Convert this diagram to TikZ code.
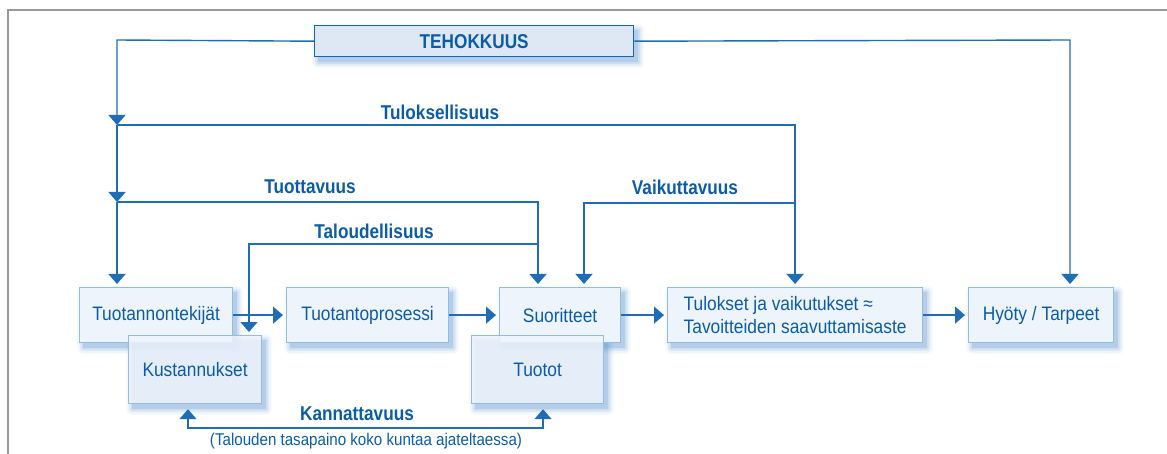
\documentclass[tikz,border=0pt]{standalone}
\usepackage{fontspec}
\setmainfont{Liberation Sans}[FakeStretch=0.89,BoldFeatures={FakeStretch=0.86}]
\usetikzlibrary{arrows.meta,backgrounds}
\definecolor{linec}{HTML}{1F6DB5}
\definecolor{textc}{HTML}{0B5CA8}
\definecolor{boxfill}{HTML}{EEF4FB}
\definecolor{boxdraw}{HTML}{93BCE3}
\definecolor{tehfill}{HTML}{DEE8F5}
\definecolor{tehdraw}{HTML}{1566B2}
\definecolor{shadowc}{HTML}{4F8ACB}
\definecolor{framec}{HTML}{9A9A9A}
\begin{document}
\begin{tikzpicture}[x=1pt,y=-1pt,
  box/.style={draw=boxdraw,fill=boxfill,line width=1.2pt,anchor=north west,inner sep=0pt,
    text=textc,font=\fontsize{19.5}{23}\selectfont,align=center},
  tehbox/.style={draw=tehdraw,fill=tehfill,line width=1.4pt,anchor=north west,inner sep=0pt,
    text=textc,font=\bfseries\fontsize{20}{24}\selectfont},
  lbl/.style={text=textc,font=\bfseries\fontsize{20}{24}\selectfont,inner sep=0pt},
  sublbl/.style={text=textc,font=\fontsize{17}{20}\selectfont,inner sep=0pt},
  conn/.style={draw=linec,line width=1.4pt},
  arr/.style={conn,-{Triangle[width=17pt,length=10pt]},shorten >=3pt},
  arrj/.style={conn,-{Triangle[width=17pt,length=10pt]}},
]
\useasboundingbox (0,0) rectangle (1167,454);
\draw[framec,line width=1.2pt] (1167,10) -- (8,10) -- (8,454);

% boxes
\node[tehbox,minimum width=319pt,minimum height=31pt] (teh) at (314,25) {TEHOKKUUS};
\node[box,minimum width=153pt,minimum height=55pt] (tek) at (79,287) {Tuotannontekijät};
\node[box,minimum width=133pt,minimum height=68pt,fill opacity=0.85,text opacity=1] (kus) at (128,335) {Kustannukset};
\node[box,minimum width=162pt,minimum height=55pt] (pro) at (286,287) {Tuotantoprosessi};
\node[box,minimum width=121pt,minimum height=55pt] (suo) at (499,287) {Suoritteet};
\node[box,minimum width=132pt,minimum height=68pt,fill opacity=0.85,text opacity=1] (tuo) at (471,335) {Tuotot};
\node[box,minimum width=255pt,minimum height=55pt,align=left] (tul) at (667,287) {Tulokset ja vaikutukset ≈\\Tavoitteiden saavuttamisaste};
\node[box,minimum width=145pt,minimum height=55pt] (hyo) at (968,287) {Hyöty / Tarpeet};

% shadows
\begin{scope}[on background layer]
\foreach \n in {teh,tek,kus,pro,suo,tuo,tul,hyo}{
  \foreach \k/\o in {0/0.20,1.5/0.13,3/0.09,4.5/0.06,6/0.04}{
    \fill[shadowc,opacity=\o,rounded corners=\k pt]
      ([shift={(4-\k,5-\k)}]\n.north west) rectangle ([shift={(4+\k,5+\k)}]\n.south east);
  }
}
\end{scope}

% junction coordinates
\coordinate (jA) at (117,125);
\coordinate (jB) at (117,202);
\coordinate (jC) at (538,202);
\coordinate (jD) at (538,244);
\coordinate (jE) at (249,244);
\coordinate (jF) at (tul.north |- 0,203);
\coordinate (jG) at (584,203);
\coordinate (jH) at (1070,40);
\coordinate (jL) at (117,40);
\coordinate (jK1) at (188,428);
\coordinate (jK2) at (543,428);

% connectors
\draw[arrj] (teh.west) -- (jL) -- (jA);
\draw[arrj] (jA) -- (jB);
\draw[arr] (jB) -- (jB |- tek.north);
\draw[arr] (jA) -| (tul.north);
\draw[arr] (jB) -- (jC) -- (jC |- suo.north);
\draw[arr] (jD) -- (jE) -- (jE |- kus.north);
\draw[arr] (jF) -- (jG) -- (jG |- suo.north);
\draw[arr] (teh.east) -- (jH) -- (jH |- hyo.north);
\draw[arr] (tek.east) -- (pro.west);
\draw[arr] (pro.east) -- (suo.west);
\draw[arr] (suo.east) -- (tul.west);
\draw[arr] (tul.east) -- (hyo.west);
\draw[conn,{Triangle[width=17pt,length=10pt]}-{Triangle[width=17pt,length=10pt]},shorten <=5pt,shorten >=5pt]
  (jK1 |- kus.south) -- (jK1) -- (jK2) -- (jK2 |- tuo.south);

% labels
\node[lbl] (l1) at (440,112) {Tuloksellisuus};
\node[lbl] (l2) at (310,187) {Tuottavuus};
\node[lbl] (l3) at (374,231) {Taloudellisuus};
\node[lbl] (l4) at (685,187) {Vaikuttavuus};
\node[lbl] (l5) at (357,414) {Kannattavuus};
\node[sublbl] (l6) at (366,441) {(Talouden tasapaino koko kuntaa ajateltaessa)};
\end{tikzpicture}
\end{document}
